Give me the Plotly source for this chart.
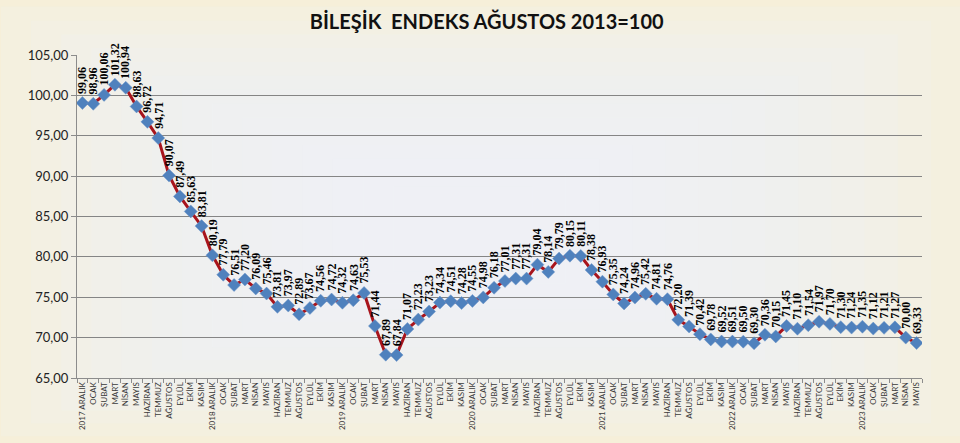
import plotly.graph_objects as go

months = ["OCAK", "ŞUBAT", "MART", "NİSAN", "MAYIS", "HAZİRAN", "TEMMUZ",
          "AĞUSTOS", "EYLÜL", "EKİM", "KASIM"]
years = [2017, 2018, 2019, 2020, 2021, 2022, 2023]
last_year_months = 5  # OCAK..MAYIS after 2023 ARALIK

values = [99.06, 98.96, 100.06, 101.32, 100.94, 98.63, 96.72, 94.71, 90.07, 87.49, 85.63, 83.81,
          80.19, 77.79, 76.51, 77.20, 76.09, 75.46, 73.81, 73.97, 72.89, 73.67, 74.56, 74.72,
          74.32, 74.63, 75.53, 71.44, 67.89, 67.84, 71.07, 72.23, 73.23, 74.34, 74.51, 74.28,
          74.55, 74.98, 76.18, 77.01, 77.31, 77.31, 79.04, 78.14, 79.79, 80.15, 80.11, 78.38,
          76.93, 75.35, 74.24, 74.96, 75.42, 74.81, 74.76, 72.20, 71.39, 70.42, 69.78, 69.52,
          69.51, 69.50, 69.30, 70.36, 70.15, 71.45, 71.10, 71.54, 71.97, 71.70, 71.30, 71.24,
          71.35, 71.12, 71.21, 71.27, 70.00, 69.33]

labels = []
for yr in years:
    labels.append(f"{yr} ARALIK")
    labels.extend(months if yr != years[-1] else months[:last_year_months])

x = list(range(len(values)))

def fmt(v):
    return f"{v:.2f}".replace(".", ",")

fig = go.Figure()
fig.add_trace(go.Scatter(
    x=x, y=values, mode="lines+markers",
    line=dict(color="#A8141C", width=3),
    marker=dict(symbol="diamond", size=10, color="#4F81BD",
                line=dict(color="#6E96C8", width=0.5)),
    hoverinfo="skip", showlegend=False,
))

for xi, v in zip(x, values):
    fig.add_annotation(
        x=xi, y=v, text=f"<b>{fmt(v)}</b>", textangle=-90, showarrow=False,
        xanchor="center", yanchor="bottom", yshift=7,
        font=dict(family="Liberation Serif", size=12, color="#000000"),
    )

# soft background gradient (cream edges, lighter centre)
shapes = []
n = 14
for i in range(n):
    f = i / n
    shapes.append(dict(
        type="rect", xref="paper", yref="paper", layer="below",
        x0=-0.09 + f * 0.5, x1=1.05 - f * 0.55,
        y0=-0.18 + f * 0.55, y1=1.15 - f * 0.6,
        line=dict(width=0), fillcolor="rgba(238,246,252,0.18)",
    ))

fig.update_layout(
    width=960, height=443,
    margin=dict(l=77, r=38, t=55, b=65),
    paper_bgcolor="#F6EFD9",
    plot_bgcolor="rgba(0,0,0,0)",
    separators=",.",
    shapes=shapes,
    title=dict(text="<b>BİLEŞİK  ENDEKS AĞUSTOS 2013=100</b>", x=0.507, xanchor="center",
               y=0.95, yanchor="middle",
               font=dict(family="Lato", size=20, color="#111111")),
    xaxis=dict(
        range=[-0.5, len(values) - 0.5],
        tickmode="array", tickvals=x, ticktext=labels, tickangle=-90,
        ticks="", showgrid=False, zeroline=False,
        showline=True, linecolor="#8C8C8C", linewidth=1,
        tickfont=dict(family="Lato", size=8, color="#3A3A3A"),
        minor=dict(tickmode="linear", tick0=-0.5, dtick=1, ticks="outside",
                   ticklen=4, tickcolor="#8C8C8C", showgrid=False),
    ),
    yaxis=dict(
        range=[65, 105], tickmode="linear", tick0=65, dtick=5, tickformat=".2f",
        showgrid=True, gridcolor="#858585", gridwidth=1.2,
        zeroline=False, showline=True, linecolor="#8C8C8C", linewidth=1,
        ticks="outside", ticklen=5, tickcolor="#8C8C8C",
        tickfont=dict(family="Lato", size=13, color="#222222"),
    ),
)

fig.write_html("out.html", config={"displayModeBar": False},
               post_script="document.body.style.margin='0';document.body.style.background='#F6EFD9';")
